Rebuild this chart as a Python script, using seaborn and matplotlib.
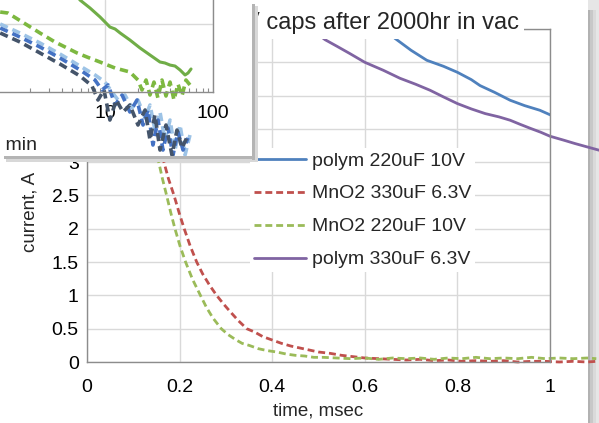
import matplotlib
matplotlib.use("Agg")
import matplotlib.pyplot as plt
from matplotlib.patches import Rectangle
from matplotlib.ticker import FixedLocator, NullLocator
import seaborn as sns

# ---- main chart: current (A) vs time (msec) ----
t_polym_220 = [0.640, 0.665, 0.700, 0.734, 0.770, 0.800, 0.830, 0.849, 0.880, 0.914, 0.945, 0.978, 1.004, 1.020]
i_polym_220 = [5.05, 4.86, 4.68, 4.53, 4.44, 4.35, 4.24, 4.15, 4.05, 3.93, 3.85, 3.78, 3.70, 3.66]

t_mno2_330 = [0.150, 0.158, 0.165, 0.176, 0.188, 0.199, 0.210, 0.223, 0.237, 0.250,
              0.265, 0.280, 0.295, 0.310, 0.327, 0.345, 0.362, 0.380, 0.400, 0.420,
              0.440, 0.460, 0.480, 0.500, 0.525, 0.550, 0.575, 0.600, 0.630, 0.660,
              0.690, 0.720, 0.750, 0.780, 0.810, 0.840, 0.870, 0.900, 0.930, 0.960,
              0.990, 1.020, 1.050, 1.080, 1.100]
i_mno2_330 = [3.90, 3.45, 3.03, 2.75, 2.50, 2.24, 2.00, 1.74, 1.50, 1.32,
              1.15, 1.00, 0.87, 0.75, 0.62, 0.50, 0.45, 0.38, 0.33, 0.28,
              0.24, 0.21, 0.18, 0.15, 0.13, 0.10, 0.08, 0.06, 0.05, 0.04,
              0.03, 0.04, 0.02, 0.03, 0.01, 0.02, 0.01, 0.02, 0.00, 0.01,
              0.01, 0.00, 0.01, 0.00, 0.01]

t_mno2_220 = [0.140, 0.147, 0.154, 0.163, 0.172, 0.181, 0.190, 0.201, 0.213, 0.228,
              0.245, 0.258, 0.272, 0.290, 0.305, 0.320, 0.335, 0.350, 0.370, 0.390,
              0.410, 0.430, 0.450, 0.470, 0.490, 0.510, 0.540, 0.570, 0.600, 0.630,
              0.660, 0.690, 0.720, 0.750, 0.780, 0.810, 0.840, 0.870, 0.900, 0.930,
              0.960, 0.990, 1.020, 1.050, 1.080, 1.100]
i_mno2_220 = [3.90, 3.45, 3.03, 2.75, 2.50, 2.24, 2.00, 1.74, 1.50, 1.24,
              1.00, 0.82, 0.66, 0.50, 0.41, 0.34, 0.28, 0.25, 0.20, 0.17,
              0.15, 0.12, 0.10, 0.09, 0.07, 0.07, 0.06, 0.05, 0.06, 0.04,
              0.06, 0.05, 0.06, 0.04, 0.06, 0.05, 0.07, 0.05, 0.06, 0.05,
              0.07, 0.05, 0.06, 0.05, 0.06, 0.05]

t_polym_330 = [0.490, 0.514, 0.540, 0.568, 0.600, 0.640, 0.676, 0.710, 0.741, 0.770,
               0.800, 0.830, 0.860, 0.890, 0.914, 0.935, 0.957, 0.980, 1.000, 1.030,
               1.054, 1.080, 1.106]
i_polym_330 = [4.97, 4.84, 4.74, 4.63, 4.50, 4.38, 4.26, 4.17, 4.08, 3.98,
               3.88, 3.80, 3.73, 3.68, 3.63, 3.57, 3.51, 3.45, 3.39, 3.33,
               3.28, 3.23, 3.18]

labels = ["polym 220uF 10V", "MnO2 330uF 6.3V", "MnO2 220uF 10V", "polym 330uF 6.3V"]
x_ticks = [0, 0.2, 0.4, 0.6, 0.8, 1]
x_tick_labels = ["0", "0.2", "0.4", "0.6", "0.8", "1"]
y_ticks = [0, 0.5, 1, 1.5, 2, 2.5, 3, 3.5, 4, 4.5, 5]
y_tick_labels = ["0", "0.5", "1", "1.5", "2", "2.5", "3", "3.5", "4", "4.5", "5"]

# ---- inset chart: log-log, time in min ----
tm_green_solid = [5.62, 5.87, 7.26, 8.99, 10.0, 11.1, 12.4, 13.8, 17.0, 21.1,
                  26.1, 32.3, 35.9, 40.0, 44.5, 49.5, 55.1, 58.7, 62.6]
c_green_solid = [0.0249, 0.0225, 0.0172, 0.0127, 0.0107, 0.00903, 0.00844, 0.00738, 0.00582, 0.00444,
                 0.00350, 0.00276, 0.00267, 0.00249, 0.00241, 0.00211, 0.00178, 0.00190, 0.00218]

tm_green_dash = [1.07, 1.26, 1.90, 2.50, 3.44, 4.45, 5.51, 6.81, 8.99, 12.4,
                 17.0, 20.2, 22.0, 24.0, 26.1, 28.4, 30.9, 33.7, 36.7, 40.0,
                 43.5, 47.4, 51.6, 56.2, 61.2]
c_green_dash = [0.0150, 0.0145, 0.00967, 0.00737, 0.00544, 0.00444, 0.00375, 0.00327, 0.00276, 0.00225,
                0.00197, 0.00150, 0.00107, 0.00150, 0.000903, 0.00140, 0.000816, 0.00150, 0.000873, 0.00140,
                0.000763, 0.00131, 0.000873, 0.00150, 0.00127]

tm_light_blue = [1.07, 1.63, 2.50, 3.83, 5.87, 8.08, 10.0, 11.6, 13.2, 15.3, 17.8,
                 20.2, 23.5, 26.1, 29.0, 32.3, 35.9, 40.0, 44.5, 49.5, 55.1, 61.2]
c_light_blue = [0.0100, 0.00737, 0.00526, 0.00362, 0.00241, 0.00178, 0.00140, 0.00100, 0.000763, 0.000903, 0.000582,
                0.000763, 0.000415, 0.000644, 0.000276, 0.000508, 0.000197, 0.000387, 0.000140, 0.000327, 0.000118, 0.000233]

tm_mid_blue = [1.07, 1.63, 2.50, 3.83, 5.87, 8.08, 9.38, 10.7, 12.4, 14.4, 17.0,
               19.8, 22.5, 25.0, 27.8, 31.0, 34.4, 38.3, 42.6, 47.4, 52.8, 58.7]
c_mid_blue = [0.00873, 0.00644, 0.00459, 0.00316, 0.00211, 0.00150, 0.00107, 0.00127, 0.000644, 0.000903, 0.000508,
              0.000763, 0.000327, 0.000544, 0.000166, 0.000387, 0.000140, 0.000296, 0.000118, 0.000258, 0.000140, 0.000211]

tm_navy = [1.07, 1.63, 2.50, 3.83, 5.87, 7.58, 8.61, 9.79, 11.1, 12.7, 14.7,
           17.0, 20.2, 23.5, 26.1, 29.0, 32.3, 36.7, 41.7, 46.4, 51.6, 58.7]
c_navy = [0.00737, 0.00544, 0.00375, 0.00258, 0.00172, 0.00123, 0.000763, 0.00107, 0.000387, 0.000763, 0.000508,
          0.000644, 0.000327, 0.000544, 0.000197, 0.000459, 0.000140, 0.000327, 0.000118, 0.000276, 0.000150, 0.000233]

inset_ticks = [10, 100]
inset_tick_labels = ["10", "100"]

sns.set_theme(style="whitegrid", rc={'grid.color': '#D9D9D9', 'grid.linewidth': 1.0})
plt.rcParams['font.family'] = ['Liberation Sans', 'DejaVu Sans']

W, H = 599, 423
fig = plt.figure(figsize=(W / 100, H / 100), dpi=100)


def px_box(x0, y0, x1, y1):
    # pixel box (origin top-left) -> figure fraction rect
    return [x0 / W, 1 - y1 / H, (x1 - x0) / W, (y1 - y0) / H]


def add_rect(x0, y0, x1, y1, color, z, alpha=1.0):
    r = Rectangle((x0 / W, 1 - y1 / H), (x1 - x0) / W, (y1 - y0) / H,
                  transform=fig.transFigure, facecolor=color, edgecolor='none',
                  zorder=z, alpha=alpha)
    fig.add_artist(r)
    return r


# window edge on the right
add_rect(588, 0, 599, 423, '#E6E6E6', -1)
add_rect(588, 10, 590, 423, '#B2B2B2', -1)
add_rect(590, 10, 593, 423, '#C8C8C8', -1)
add_rect(593, 10, 596, 423, '#DADADA', -1)

# main chart
ax = fig.add_axes(px_box(87, 29, 550, 362))
dash = (0, (2.5, 1.4))
sns.lineplot(x=t_polym_220, y=i_polym_220, ax=ax, color='#4F81BD', lw=2,
             label=labels[0], sort=False, estimator=None)
sns.lineplot(x=t_mno2_330, y=i_mno2_330, ax=ax, color='#C0504D', lw=2, linestyle=dash,
             label=labels[1], sort=False, estimator=None, clip_on=False)
sns.lineplot(x=t_mno2_220, y=i_mno2_220, ax=ax, color='#9BBB59', lw=2, linestyle=dash,
             label=labels[2], sort=False, estimator=None, clip_on=False)
sns.lineplot(x=t_polym_330, y=i_polym_330, ax=ax, color='#8064A2', lw=2,
             label=labels[3], sort=False, estimator=None, clip_on=False)

ax.set_xlim(0, 1)
ax.set_ylim(0, 5)
ax.set_xticks(x_ticks)
ax.set_xticklabels(x_tick_labels)
ax.set_yticks(y_ticks)
ax.set_yticklabels(y_tick_labels)
ax.set_xlabel('')
ax.set_ylabel('')
ax.grid(True, color='#D9D9D9', linewidth=1.0)
ax.set_axisbelow(True)
ax.tick_params(axis='both', length=0, labelsize=14, labelcolor='black')
ax.tick_params(axis='x', pad=12)
ax.tick_params(axis='y', pad=6)
for s in ax.spines.values():
    s.set_color('#8C8C8C')
    s.set_linewidth(1)

ax.legend(loc='upper left', bbox_to_anchor=(250 / W, 1 - 148 / H), bbox_transform=fig.transFigure,
          frameon=True, facecolor='white', edgecolor='none', framealpha=1, fancybox=False,
          fontsize=14, handlelength=2.7, handletextpad=0.3, labelspacing=0.79,
          borderpad=0.2, borderaxespad=0)

fig.text(318 / W, 1 - 411 / H, "time, msec", ha='center', va='center', fontsize=13.5)
fig.text(30 / W, 1 - 212 / H, "current, A", ha='center', va='center', rotation=90, fontsize=13.5)

fig.text(519 / W, 1 - 23 / H, "V caps after 2000hr in vac", ha='right', va='center', fontsize=17,
         bbox=dict(facecolor='white', edgecolor='none', boxstyle='square,pad=0.22'), zorder=3)

# inset window with shadow
add_rect(252, 4, 255, 160, '#B4B4B4', 3.8)
add_rect(255, 6, 258, 162, '#D8D8D8', 3.7)
add_rect(4, 156, 255, 159, '#B4B4B4', 3.8)
add_rect(6, 159, 258, 162, '#D8D8D8', 3.7)
add_rect(0, 0, 252, 156, 'white', 4)
clip = Rectangle((0, 1 - 156 / H), 252 / W, 156 / H, transform=fig.transFigure)

ax_in = fig.add_axes(px_box(0, 0, 213, 92))
ax_in.set_zorder(5)
ax_in.set_xscale('log')
ax_in.set_yscale('log')
ax_in.set_facecolor('white')
idash = (0, (2.3, 1.4))
sns.lineplot(x=tm_green_solid, y=c_green_solid, ax=ax_in, color='#70AD47', lw=2.2,
             sort=False, estimator=None)
sns.lineplot(x=tm_green_dash, y=c_green_dash, ax=ax_in, color='#7DB840', lw=2.6, linestyle=idash,
             sort=False, estimator=None)
sns.lineplot(x=tm_light_blue, y=c_light_blue, ax=ax_in, color='#9DC3E6', lw=2.6, linestyle=idash,
             sort=False, estimator=None)
sns.lineplot(x=tm_mid_blue, y=c_mid_blue, ax=ax_in, color='#4472C4', lw=2.6, linestyle=idash,
             sort=False, estimator=None)
sns.lineplot(x=tm_navy, y=c_navy, ax=ax_in, color='#44546A', lw=2.6, linestyle=idash,
             sort=False, estimator=None)
for ln in ax_in.lines:
    ln.set_clip_path(clip)

ax_in.set_xlim(1.066, 100)
ax_in.set_ylim(0.001, 0.02254)
ax_in.set_xticks(inset_ticks)
ax_in.set_xticklabels(inset_tick_labels)
ax_in.yaxis.set_major_locator(FixedLocator([0.01]))
ax_in.yaxis.set_minor_locator(NullLocator())
ax_in.grid(True, which='major', color='#D9D9D9', linewidth=1.0)
ax_in.set_axisbelow(True)
ax_in.tick_params(axis='y', which='both', length=0, labelleft=False)
ax_in.tick_params(axis='x', which='major', length=0, labelsize=14, pad=9, labelcolor='black')
ax_in.tick_params(axis='x', which='minor', bottom=True, direction='in', length=3, width=0.8, color='#8C8C8C')
ax_in.set_xlabel('')
ax_in.set_ylabel('')
ax_in.spines['left'].set_visible(False)
ax_in.spines['top'].set_visible(False)
for side in ['right', 'bottom']:
    ax_in.spines[side].set_color('#8C8C8C')
    ax_in.spines[side].set_linewidth(1)
ax_in.text(37 / W, 1 - 145 / H, "time, min", transform=fig.transFigure, ha='right', va='center', fontsize=14)

fig.savefig('out.png', dpi=100)
